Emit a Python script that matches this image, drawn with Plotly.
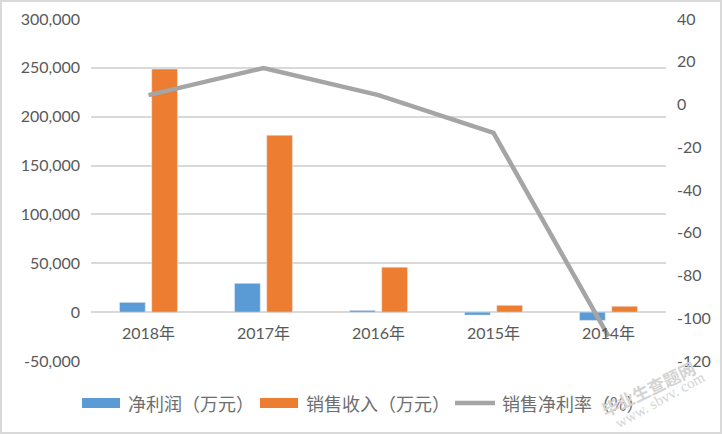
import plotly.graph_objects as go

years = ["2018年", "2017年", "2016年", "2015年", "2014年"]
net_profit = [10000, 29500, 1800, -3000, -8500]
revenue = [248800, 181000, 46000, 7000, 6000]
net_margin = [4.4, 17.1, 4.4, -13.3, -108.5]

left_ticks = [-50000, 0, 50000, 100000, 150000, 200000, 250000, 300000]
left_labels = ["-50,000", "0", "50,000", "100,000", "150,000", "200,000", "250,000", "300,000"]
right_ticks = [-120, -100, -80, -60, -40, -20, 0, 20, 40]
right_labels = ["-120", "-100", "-80", "-60", "-40", "-20", "0", "20", "40"]

names = ["净利润（万元）", "销售收入（万元）", "销售净利率（%）"]
colors = ["#5b9bd5", "#ed7d31", "#a5a5a5"]

W, H = 722, 434
L, R, T, B = 91, 56, 19, 73
GREY = "#595959"
FONT = "Lato, 'Noto Sans CJK SC', sans-serif"
CJK = "'Noto Sans CJK SC', sans-serif"
PW, PH = W - L - R, H - T - B


# pixel position on the page -> paper fraction
def px(x):
    return (x - L) / PW


def py(y):
    return (H - B - y) / PH


fig = go.Figure()
fig.add_trace(go.Bar(x=years, y=net_profit, name=names[0], marker_color=colors[0], showlegend=False))
fig.add_trace(go.Bar(x=years, y=revenue, name=names[1], marker_color=colors[1], showlegend=False))
fig.add_trace(go.Scatter(x=years, y=net_margin, name=names[2], yaxis="y2", mode="lines", showlegend=False,
                         line=dict(color=colors[2], width=4.5)))

# legend is drawn by hand, the built-in one cannot do wide bar swatches
shapes = [
    dict(type="rect", xref="paper", yref="paper", x0=px(1), x1=px(W - 1), y0=py(H - 1), y1=py(1),
         line=dict(color="#d9d9d9", width=2)),
    dict(type="rect", xref="paper", yref="paper", x0=px(82), x1=px(120), y0=py(408), y1=py(398),
         fillcolor=colors[0], line_width=0),
    dict(type="rect", xref="paper", yref="paper", x0=px(260), x1=px(298), y0=py(408), y1=py(398),
         fillcolor=colors[1], line_width=0),
    dict(type="line", xref="paper", yref="paper", x0=px(455), x1=px(495), y0=py(403), y1=py(403),
         line=dict(color=colors[2], width=4.5)),
]
annotations = []
for name, x in zip(names, [126, 304, 500]):
    annotations.append(dict(text=name, xref="paper", yref="paper", x=px(x), y=py(403), xanchor="left",
                            yanchor="middle", showarrow=False, font=dict(family=CJK, size=18, color="#6e6e6e")))

# site watermark, lower right corner
annotations.append(dict(text="<b>毕业生查题网</b>", xref="paper", yref="paper", x=px(648), y=py(388), textangle=-26,
                        xanchor="center", yanchor="middle", showarrow=False,
                        font=dict(family=CJK, size=17, color="#d4d4d4")))
annotations.append(dict(text="www. sbvv. com", xref="paper", yref="paper", x=px(660), y=py(400), textangle=-29,
                        xanchor="center", yanchor="middle", showarrow=False,
                        font=dict(family="Liberation Serif", size=15, color="#d4d4d4")))

fig.update_layout(
    width=W, height=H,
    margin=dict(l=L, r=R, t=T, b=B, autoexpand=False),
    paper_bgcolor="white", plot_bgcolor="white",
    font=dict(family=FONT, size=16, color=GREY),
    barmode="group", bargap=0.44, bargroupgap=0.2,
    xaxis=dict(anchor="free", position=1 / 7, showgrid=False, showline=False, zeroline=False,
               ticks="", ticklabelstandoff=10),
    yaxis=dict(range=[-50000, 300000], tickvals=left_ticks, ticktext=left_labels, ticklabelstandoff=10,
               gridcolor="#d9d9d9", gridwidth=2, zeroline=False, showline=False, ticks=""),
    yaxis2=dict(range=[-120, 40], tickvals=right_ticks, ticktext=right_labels, overlaying="y",
                side="right", showgrid=False, zeroline=False, showline=False, ticks="", ticklabelstandoff=10),
    shapes=shapes,
    annotations=annotations,
)

fig.write_html("out.html", config=dict(displayModeBar=False), post_script="document.body.style.margin='0';")
